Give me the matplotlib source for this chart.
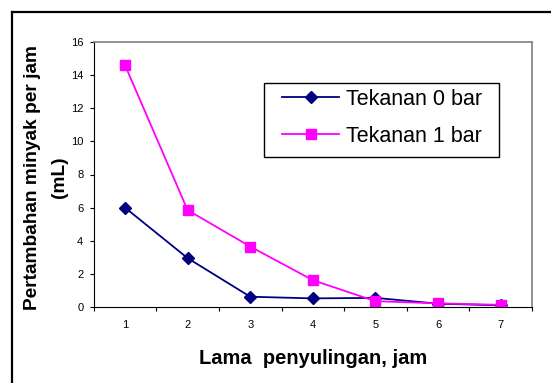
import matplotlib.pyplot as plt
from matplotlib.lines import Line2D
from matplotlib.patches import Rectangle

# data
jam = [1, 2, 3, 4, 5, 6, 7]
tekanan_0 = [6.0, 2.95, 0.62, 0.52, 0.55, 0.2, 0.1]
tekanan_1 = [14.6, 5.85, 3.65, 1.62, 0.35, 0.22, 0.13]
y_ticks = [0, 2, 4, 6, 8, 10, 12, 14, 16]

plt.rcParams['font.family'] = ['Liberation Sans', 'DejaVu Sans']

W, H = 551, 383
fig = plt.figure(figsize=(W / 100, H / 100), dpi=100)
# plot area in pixels: left 93.7, right 532, top 42, bottom 307
ax = fig.add_axes([93.7 / W, 1 - 307 / H, 438.3 / W, 265 / H])

ax.plot(jam, tekanan_0, color='#000080', marker='D', markersize=6, lw=1.3,
        label='Tekanan 0 bar')
ax.plot(jam, tekanan_1, color='#FF00FF', marker='s', markersize=7.5, lw=1.3,
        label='Tekanan 1 bar')

ax.set_xlim(0.5, 7.5)
ax.set_ylim(0, 16)
ax.set_yticks(y_ticks)
ax.tick_params(axis='y', labelsize=8, length=3.2, width=0.8, pad=4.3)

# category axis: ticks between categories, labels at centres
ax.set_xticks([i + 0.5 for i in range(0, 8)])
ax.set_xticklabels([])
ax.set_xticks(jam, minor=True)
ax.set_xticklabels([str(j) for j in jam], minor=True)
ax.tick_params(axis='x', which='major', length=3, width=0.8)
ax.tick_params(axis='x', which='minor', length=0, labelsize=8, pad=9)

for s in ['top', 'right']:
    ax.spines[s].set_color('#808080')
    ax.spines[s].set_linewidth(1.2)
for s in ['left', 'bottom']:
    ax.spines[s].set_color('black')

# axis titles
fig.text(45.7 / W, 1 - 177 / H, 'Pertambahan minyak per jam\n(mL)', fontsize=13.8,
         fontweight='bold', rotation=90, ha='center', va='center',
         multialignment='center', linespacing=1.75)
fig.text(312.9 / W, 1 - 358.5 / H, 'Lama  penyulingan, jam', fontsize=14.5,
         fontweight='bold', ha='center', va='center')

# legend without its own frame, box drawn separately
leg = ax.legend(loc='upper left', bbox_to_anchor=(0.4296, 0.8238), borderaxespad=0,
                borderpad=0, frameon=False, fontsize=15.5,
                handlelength=2.65, handletextpad=0.33, labelspacing=0.75)
ax.add_patch(Rectangle((0.3886, 0.5642), 0.9247 - 0.3886, 0.8464 - 0.5642,
                       transform=ax.transAxes, fill=False, edgecolor='black',
                       lw=1.0, zorder=5))

# outer chart border (left and top visible)
fig.add_artist(Line2D([11.7 / W, 11.7 / W], [0, 1 - 12 / H], color='black', lw=1.6))
fig.add_artist(Line2D([11.7 / W, 1], [1 - 12 / H, 1 - 12 / H], color='black', lw=1.6))

fig.savefig('out.png', dpi=100)
